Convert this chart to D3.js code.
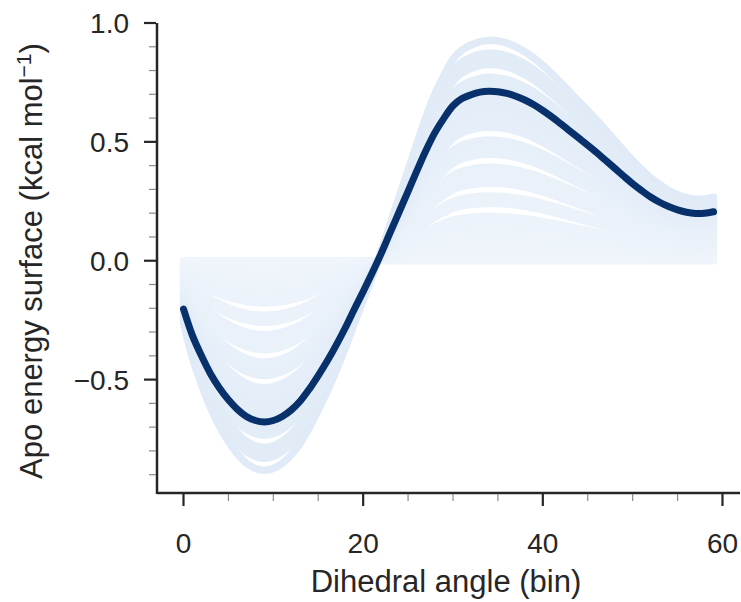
<!DOCTYPE html>
<html>
<head>
<meta charset="utf-8">
<script src="https://cdn.jsdelivr.net/npm/d3@7"></script>
<style>
  body { margin: 0; background: #fff; }
  text { font-family: "Liberation Sans", Arial, sans-serif; fill: #262626; }
</style>
</head>
<body>
<div id="chart"></div>
<script>
// dihedral bins 0..59
const bins = d3.range(60);

// fitted apo energy surface (kcal/mol), one value per bin
const energy = [
  -0.203, -0.315, -0.400, -0.475, -0.535, -0.585, -0.625, -0.655, -0.672, -0.678,
  -0.672, -0.655, -0.628, -0.590, -0.540, -0.483, -0.422, -0.355, -0.283, -0.205,
  -0.130, -0.052,  0.030,  0.118,  0.205,  0.292,  0.380,  0.465,  0.540,  0.600,
   0.652,  0.682,  0.698,  0.709,  0.713,  0.711,  0.704,  0.692,  0.676,  0.656,
   0.632,  0.605,  0.576,  0.546,  0.516,  0.486,  0.455,  0.422,  0.389,  0.356,
   0.324,  0.295,  0.268,  0.246,  0.228,  0.214,  0.204,  0.199,  0.200,  0.206
];

// amplitude of each light sample curve relative to the fitted one
const sampleAmplitudes = [
  0, 0.035, 0.07, 0.105, 0.14, 0.175, 0.21, 0.24, 0.262,
  0.338, 0.36, 0.382,
  0.458, 0.49, 0.52, 0.552,
  0.628, 0.656, 0.684, 0.712,
  0.788, 0.83, 0.87, 0.91, 0.95, 0.99, 1.02, 1.05, 1.082,
  1.158, 1.19, 1.225,
  1.30
];

const xTicks = [0, 20, 40, 60];
const yTicks = [-0.5, 0, 0.5, 1.0];

const width = 741, height = 602;

const x = d3.scaleLinear().domain([-2.95, 61.95]).range([157, 740]);
const y = d3.scaleLinear().domain([-0.977, 1.0]).range([493, 23]);

const svg = d3.select('#chart')
  .append('svg')
  .attr('width', width)
  .attr('height', height);

const line = d3.line()
  .x((d, i) => x(bins[i]))
  .y(d => y(d))
  .curve(d3.curveCatmullRom);

const shade = d3.interpolateRgb('#f0f5fb', '#e0ebf7');

svg.append('g')
  .selectAll('path')
  .data(sampleAmplitudes)
  .join('path')
  .attr('d', a => line(energy.map(v => v * a)))
  .attr('fill', 'none')
  .attr('stroke', a => shade(a / 1.3))
  .attr('stroke-width', 7.5)
  .attr('stroke-linecap', 'round')
  .attr('stroke-linejoin', 'round');

svg.append('path')
  .attr('d', line(energy))
  .attr('fill', 'none')
  .attr('stroke', '#08306b')
  .attr('stroke-width', 7)
  .attr('stroke-linecap', 'round');

// axes
const xAxis = svg.append('g');
xAxis.append('line')
  .attr('x1', 157).attr('x2', 740)
  .attr('y1', 493).attr('y2', 493)
  .attr('stroke', '#262626').attr('stroke-width', 2.5);

xAxis.selectAll('.minor')
  .data(d3.range(0, 61, 5).filter(v => v % 20 !== 0))
  .join('line')
  .attr('x1', d => x(d)).attr('x2', d => x(d))
  .attr('y1', 494).attr('y2', 501)
  .attr('stroke', '#8a8a8a').attr('stroke-width', 1.2);

xAxis.selectAll('.major')
  .data(xTicks)
  .join('g')
  .each(function (d) {
    const g = d3.select(this);
    g.append('line')
      .attr('x1', x(d)).attr('x2', x(d))
      .attr('y1', 494).attr('y2', 506)
      .attr('stroke', '#262626').attr('stroke-width', 2.2);
    g.append('text')
      .attr('x', x(d)).attr('y', 553)
      .attr('text-anchor', 'middle')
      .attr('font-size', '28px')
      .text(d);
  });

const yAxis = svg.append('g');
yAxis.append('line')
  .attr('x1', 157).attr('x2', 157)
  .attr('y1', 23).attr('y2', 494)
  .attr('stroke', '#262626').attr('stroke-width', 2.5);

yAxis.selectAll('.minor')
  .data(d3.range(-9, 10).filter(v => v % 5 !== 0).map(v => v / 10))
  .join('line')
  .attr('x1', 149).attr('x2', 156)
  .attr('y1', d => y(d)).attr('y2', d => y(d))
  .attr('stroke', '#8a8a8a').attr('stroke-width', 1.2);

yAxis.selectAll('.major')
  .data(yTicks)
  .join('g')
  .each(function (d) {
    const g = d3.select(this);
    g.append('line')
      .attr('x1', 144).attr('x2', 156)
      .attr('y1', y(d)).attr('y2', y(d))
      .attr('stroke', '#262626').attr('stroke-width', 2.2);
    g.append('text')
      .attr('x', 129).attr('y', y(d))
      .attr('dy', '0.36em')
      .attr('text-anchor', 'end')
      .attr('font-size', '28px')
      .text(d < 0 ? '\u2212' + d3.format('.1f')(-d) : d3.format('.1f')(d));
  });

// axis titles
svg.append('text')
  .attr('x', 446).attr('y', 592)
  .attr('text-anchor', 'middle')
  .attr('font-size', '31px')
  .text('Dihedral angle (bin)');

const yTitle = svg.append('text')
  .attr('transform', 'translate(42,261) rotate(-90)')
  .attr('text-anchor', 'middle')
  .attr('font-size', '31px');
yTitle.append('tspan').text('Apo energy surface (kcal mol');
yTitle.append('tspan').attr('font-size', '21px').attr('dy', '-11').text('\u22121');
yTitle.append('tspan').attr('dy', '11').text(')');
</script>
</body>
</html>
